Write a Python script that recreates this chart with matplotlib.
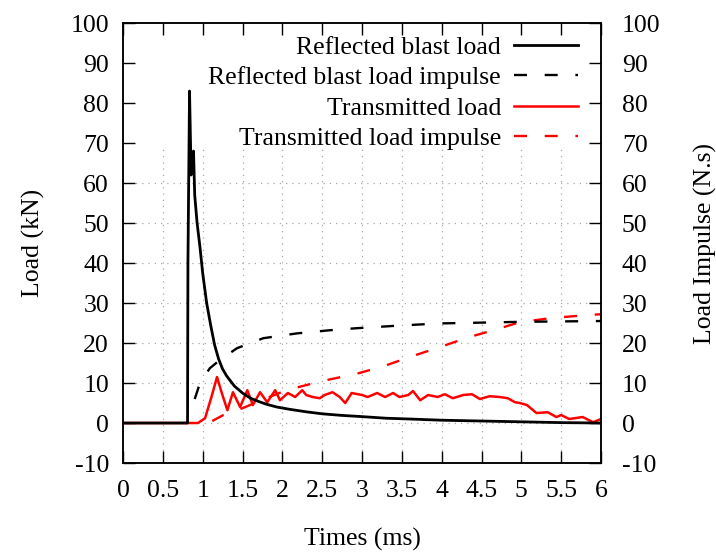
import matplotlib
matplotlib.use('Agg')
import matplotlib.pyplot as plt

plt.rcParams['font.family'] = ['Liberation Serif', 'DejaVu Serif']
plt.rcParams['axes.unicode_minus'] = False

# reflected blast load (kN)
t_refl = [0, 0.81, 0.815, 0.835, 0.855, 0.87, 0.885, 0.9, 0.93, 0.966, 1.0, 1.05,
          1.1, 1.15, 1.2, 1.25, 1.3, 1.4, 1.5, 1.6, 1.7, 1.8, 1.93, 2.1, 2.3,
          2.5, 2.75, 3.0, 3.3, 3.6, 4.0, 4.5, 5.0, 5.5, 6.0]
f_refl = [0, 0, 40, 83, 62, 66, 68, 57, 50, 44, 37.5, 30,
          24.5, 19.5, 16.0, 13.5, 11.8, 9.2, 7.5, 6.2, 5.4, 4.7, 4.0, 3.4, 2.8,
          2.3, 1.9, 1.6, 1.2, 1.0, 0.7, 0.5, 0.3, 0.1, 0.0]

# reflected blast load impulse (N.s)
t_refl_imp = [0.9, 0.95, 1.0, 1.09, 1.2, 1.43, 1.76, 2.18, 2.6, 2.93, 3.5, 3.98,
              4.5, 5.0, 5.5, 6.0]
i_refl = [6, 9, 11, 13.7, 15.5, 18.7, 21.2, 22.4, 23.2, 23.7, 24.4, 24.9,
          25.1, 25.3, 25.4, 25.5]

# transmitted load (kN)
t_trans = [0, 0.94, 1.03, 1.11, 1.18, 1.24, 1.31, 1.38, 1.47, 1.56, 1.63, 1.72,
           1.81, 1.91, 1.97, 2.07, 2.16, 2.25, 2.3, 2.38, 2.47, 2.53, 2.63, 2.72,
           2.79, 2.87, 3.0, 3.07, 3.19, 3.29, 3.39, 3.47, 3.58, 3.64, 3.73, 3.83,
           3.95, 4.04, 4.14, 4.27, 4.38, 4.48, 4.6, 4.73, 4.83, 4.92, 4.98, 5.07,
           5.19, 5.33, 5.44, 5.5, 5.6, 5.77, 5.9, 6.0]
f_trans = [0, 0, 1.2, 6.5, 11.5, 7.5, 3.2, 7.7, 4.0, 8.2, 4.5, 7.7,
           5.2, 8.2, 5.7, 7.5, 6.5, 8.2, 7.0, 6.5, 6.2, 7.0, 7.7, 6.5,
           5.0, 7.5, 7.0, 6.5, 7.5, 6.5, 7.5, 6.5, 7.0, 8.0, 5.7, 7.0,
           6.5, 7.2, 6.2, 7.0, 7.2, 6.0, 6.7, 6.5, 6.2, 5.2, 5.0, 4.5,
           2.5, 2.7, 1.5, 2.0, 1.0, 1.5, 0.2, 1.0]

# transmitted load impulse (N.s)
t_trans_imp = [1.12, 1.26, 1.5, 1.75, 2.05, 2.5, 2.93, 3.27, 3.63, 3.98, 4.33,
               4.65, 4.98, 5.36, 5.77, 6.0]
i_trans = [0.5, 2.0, 3.7, 5.8, 8.2, 10.5, 12.3, 14.2, 16.7, 19.0, 21.4,
           23.2, 25.2, 26.2, 26.9, 27.2]

x_ticks = [0, 0.5, 1, 1.5, 2, 2.5, 3, 3.5, 4, 4.5, 5, 5.5, 6]
x_labels = ['0', '0.5', '1', '1.5', '2', '2.5', '3', '3.5', '4', '4.5', '5', '5.5', '6']
y_ticks = [-10, 0, 10, 20, 30, 40, 50, 60, 70, 80, 90, 100]

fs = 18.5
fig = plt.figure(figsize=(7.16, 5.52), dpi=100)
ax = fig.add_axes([0.1718, 0.1612, 0.6676, 0.7971])
ax2 = ax.twinx()

# dotted grid, kept out of the key area
grid_kw = dict(colors='#a8a8a8', linestyles=(0, (1, 4)), linewidths=0.9, zorder=0.5)
ax.vlines(x_ticks[1:-1], -10, 69.5, **grid_kw)
ax.hlines([y for y in y_ticks if -10 < y <= 60], 0, 6, **grid_kw)

l1, = ax.plot(t_refl, f_refl, color='black', lw=2.0, zorder=3)
l2, = ax.plot(t_refl_imp, i_refl, color='black', lw=1.7, dashes=(5.5, 7.5), zorder=3)
l3, = ax.plot(t_trans, f_trans, color='#ff0000', lw=1.8, zorder=2)
l4, = ax.plot(t_trans_imp, i_trans, color='#ff0000', lw=1.7, dashes=(5.5, 7.5), zorder=2)

ax.set_xlim(0, 6)
ax.set_ylim(-10, 100)
ax2.set_ylim(-10, 100)
ax.set_xticks(x_ticks)
ax.set_xticklabels(x_labels)
ax.set_yticks(y_ticks)
ax2.set_yticks(y_ticks)

ax.tick_params(axis='x', direction='in', length=8.5, width=1, top=True,
               labelsize=fs, pad=12)
ax.tick_params(axis='y', direction='in', length=8.5, width=1, labelsize=fs, pad=10)
ax2.tick_params(axis='y', direction='in', length=8.5, width=1, labelsize=fs, pad=15)
for a in (ax, ax2):
    for s in a.spines.values():
        s.set_linewidth(1.1)

ax.set_xlabel('Times (ms)', fontsize=fs, labelpad=19)
ax.set_ylabel('Load (kN)', fontsize=fs, labelpad=18)
ax2.set_ylabel('Load Impulse (N.s)', fontsize=fs, rotation=90, labelpad=24)

ax.legend([l1, l2, l3, l4],
          ['Reflected blast load', 'Reflected blast load impulse',
           'Transmitted load', 'Transmitted load impulse'],
          loc='upper right', bbox_to_anchor=(0.952, 0.970), markerfirst=False,
          frameon=False, fontsize=fs, handlelength=2.5, handletextpad=0.5,
          labelspacing=0.28, borderpad=0, borderaxespad=0)

fig.savefig('out.png', dpi=100)
